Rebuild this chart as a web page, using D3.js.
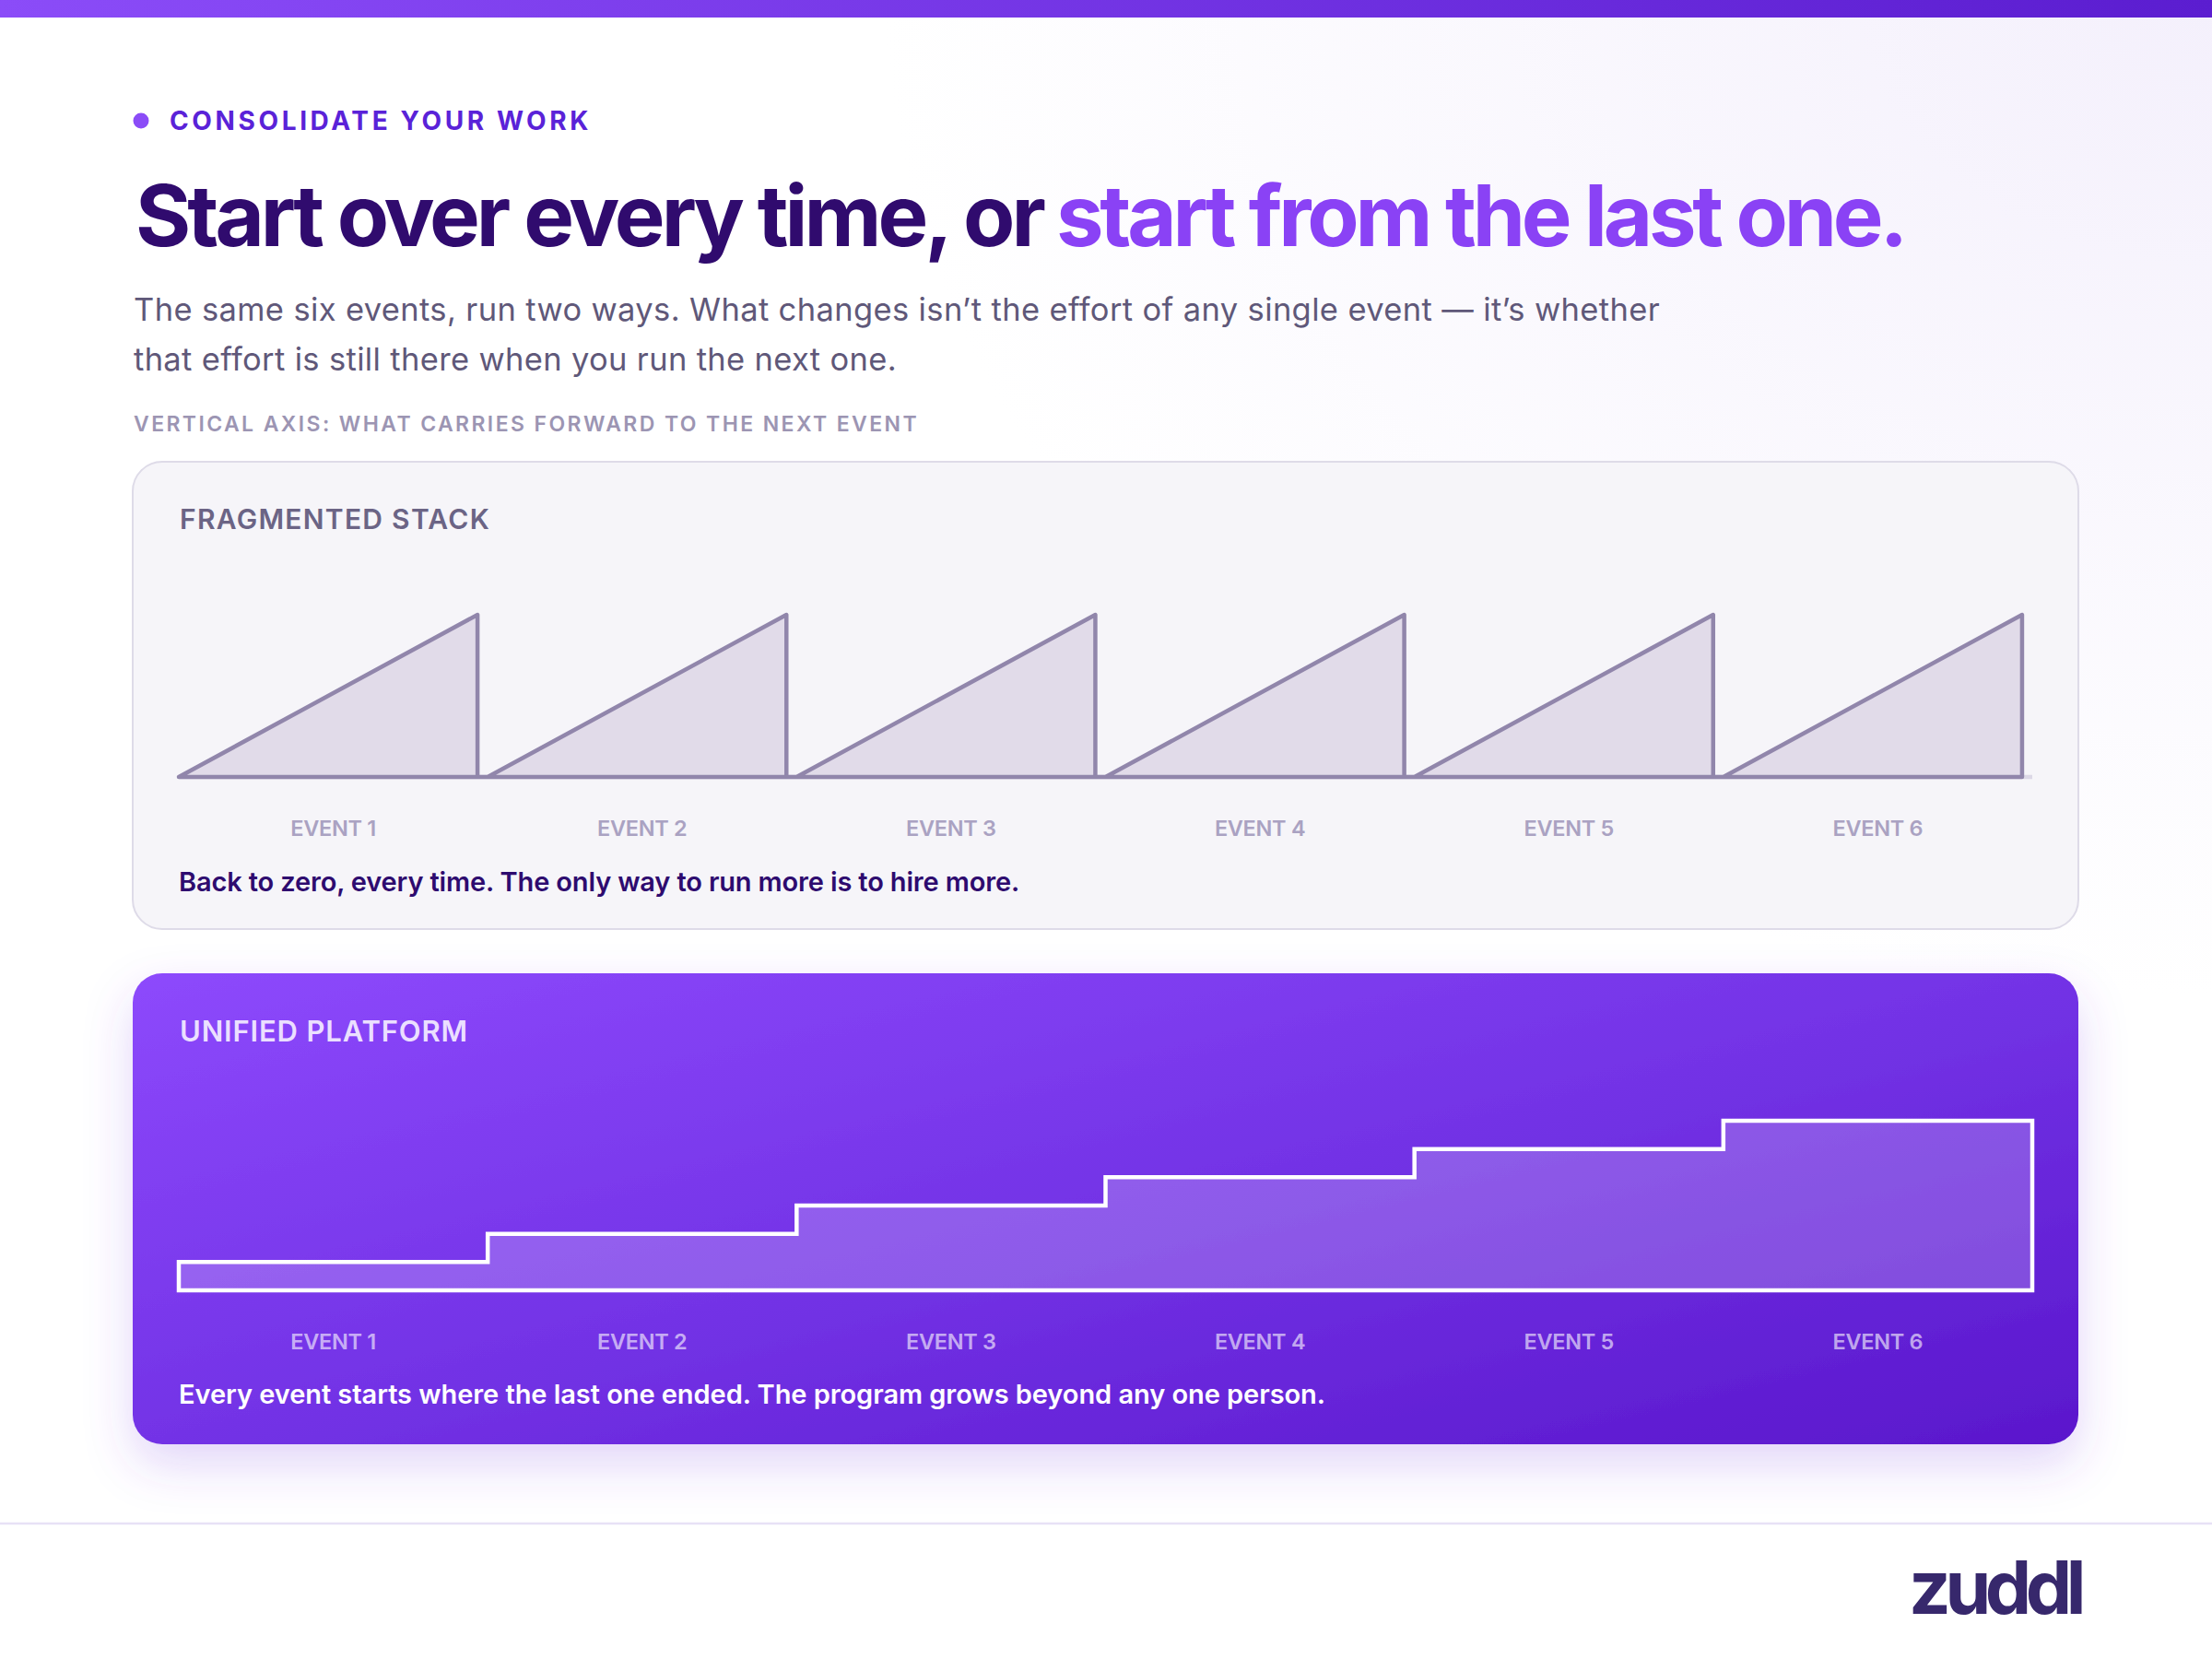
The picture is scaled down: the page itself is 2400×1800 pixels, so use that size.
<!DOCTYPE html>
<html><head><meta charset="utf-8">
<script src="https://cdn.jsdelivr.net/npm/d3@7"></script>
<style>
html,body{margin:0;padding:0;background:#ffffff;}
svg{display:block;font-family:Inter,"Noto Sans",sans-serif;}
</style>
</head><body>
<svg id="chart" width="2400" height="1800"></svg>
<script>
// ---------- data ----------
const events = ["EVENT 1","EVENT 2","EVENT 3","EVENT 4","EVENT 5","EVENT 6"];
const fragmentedPeak = [1,1,1,1,1,1];      // effort built inside each event, reset after
const unifiedLevel   = [1,2,3,4,5,6];      // what carries forward (cumulative)
const eyebrow   = "CONSOLIDATE YOUR WORK";
const titleDark = "Start over every time, or";
const titleHi   = "start from the last one.";
const subtitle  = ["The same six events, run two ways. What changes isn\u2019t the effort of any single event \u2014 it\u2019s whether",
                   "that effort is still there when you run the next one."];
const axisNote  = "VERTICAL AXIS: WHAT CARRIES FORWARD TO THE NEXT EVENT";
const panelTitles = ["FRAGMENTED STACK","UNIFIED PLATFORM"];
const captions  = ["Back to zero, every time. The only way to run more is to hire more.",
                   "Every event starts where the last one ended. The program grows beyond any one person."];
const brand = "zuddl";

// ---------- setup ----------
const svg = d3.select("#chart");
const defs = svg.append("defs");

function fit(sel, w){
  const n = sel.text().length;
  let L = sel.node().getComputedTextLength();
  let ls = (w - L) / n;
  sel.attr("letter-spacing", ls);
  L = sel.node().getComputedTextLength();
  ls += (w - L) / n;
  sel.attr("letter-spacing", ls);
  return sel;
}

// background tint
const bg = defs.append("radialGradient").attr("id","bgTint").attr("cx","100%").attr("cy","0%").attr("r","60%");
bg.append("stop").attr("offset","0%").attr("stop-color","#f4f0fc");
bg.append("stop").attr("offset","100%").attr("stop-color","#ffffff");
svg.append("rect").attr("width",2400).attr("height",1800).attr("fill","url(#bgTint)");

// top bar
const tb = defs.append("linearGradient").attr("id","topBar");
tb.append("stop").attr("offset","0%").attr("stop-color","#8b4cf8");
tb.append("stop").attr("offset","100%").attr("stop-color","#5b1dd0");
svg.append("rect").attr("width",2400).attr("height",19).attr("fill","url(#topBar)");

// eyebrow
svg.append("circle").attr("cx",153).attr("cy",131).attr("r",8.5).attr("fill","#8b4cf7");
fit(svg.append("text").attr("x",184).attr("y",141).attr("font-size",28).attr("font-weight",700)
  .attr("fill","#5a22d8").text(eyebrow), 458);

// title
fit(svg.append("text").attr("x",147).attr("y",267).attr("font-size",92).attr("font-weight",700)
  .attr("fill","#300b6e").text(titleDark), 984);
fit(svg.append("text").attr("x",1146).attr("y",267).attr("font-size",92).attr("font-weight",700)
  .attr("fill","#8a42f5").text(titleHi), 920);

// subtitle
const subW = [1656, 828];
subtitle.forEach((s,i)=>{
  fit(svg.append("text").attr("x",145).attr("y",348 + i*54).attr("font-size",34.5).attr("font-weight",400)
    .attr("fill","#5f5879").text(s), subW[i]);
});

fit(svg.append("text").attr("x",145).attr("y",468).attr("font-size",23).attr("font-weight",600)
  .attr("fill","#9c95b3").text(axisNote), 852);

// ---------- panels ----------
const panelX = 144, panelW = 2111;
// panel 1
svg.append("rect").attr("x",panelX).attr("y",501).attr("width",panelW).attr("height",507).attr("rx",32)
  .attr("fill","#f6f5f9").attr("stroke","#dedbe8").attr("stroke-width",2);

// panel 2 gradient + shadow
const pg = defs.append("linearGradient").attr("id","pGrad").attr("x1","0%").attr("y1","0%").attr("x2","100%").attr("y2","100%");
pg.append("stop").attr("offset","0%").attr("stop-color","#8d49fc");
pg.append("stop").attr("offset","50%").attr("stop-color","#7333e6");
pg.append("stop").attr("offset","100%").attr("stop-color","#5a17cc");
const sh = defs.append("filter").attr("id","shadow").attr("x","-10%").attr("y","-20%").attr("width","120%").attr("height","150%");
sh.append("feDropShadow").attr("dx",0).attr("dy",22).attr("stdDeviation",26)
  .attr("flood-color","#7b3fe4").attr("flood-opacity",0.22);
svg.append("rect").attr("x",panelX).attr("y",1056).attr("width",panelW).attr("height",511).attr("rx",32)
  .attr("fill","url(#pGrad)").attr("filter","url(#shadow)");

// panel titles
fit(svg.append("text").attr("x",195).attr("y",574).attr("font-size",30).attr("font-weight",600)
  .attr("fill","#6b6485").text(panelTitles[0]), 337);
fit(svg.append("text").attr("x",195).attr("y",1130).attr("font-size",31).attr("font-weight",600)
  .attr("fill","#ebdfff").text(panelTitles[1]), 313);

// ---------- scales ----------
const x = d3.scaleBand().domain(events).range([194, 2205])
  .paddingInner(0.033).paddingOuter(0.0165).align(0);
const step = x.step(), bw = x.bandwidth();

const yF = d3.scaleLinear().domain([0,1]).range([843, 667]);
const yU = d3.scaleLinear().domain([0,6]).range([1400, 1216]);

// ---------- fragmented chart ----------
svg.append("line").attr("x1",x.range()[0]).attr("x2",x.range()[1]).attr("y1",yF(0)).attr("y2",yF(0))
  .attr("stroke","#dcd8e6").attr("stroke-width",4.5);

const fragPts = [];
events.forEach((e,i)=>{
  fragPts.push([x(e), 0]);
  fragPts.push([x(e)+bw, fragmentedPeak[i]]);
  fragPts.push([x(e)+bw, 0]);
});
const fragArea = d3.area().x(d=>d[0]).y0(yF(0)).y1(d=>yF(d[1]));
svg.append("path").attr("d", fragArea(fragPts))
  .attr("fill","#e1dbe9").attr("stroke","#9186ab").attr("stroke-width",4.5).attr("stroke-linejoin","round");

svg.append("g").selectAll("text").data(events).join("text")
  .attr("x", d=>x(d)+step/2).attr("y",907).attr("text-anchor","middle")
  .attr("font-size",23.5).attr("font-weight",600).attr("fill","#aaa2c2").attr("letter-spacing",-0.3)
  .text(d=>d);

fit(svg.append("text").attr("x",194).attr("y",967).attr("font-size",29).attr("font-weight",600)
  .attr("fill","#2e0b6f").text(captions[0]), 912);

// ---------- unified chart ----------
const uniPts = events.map((e,i)=>[x(e), unifiedLevel[i]]);
uniPts.push([x(events[events.length-1]) + step, unifiedLevel[unifiedLevel.length-1]]);
const uniArea = d3.area().x(d=>d[0]).y0(yU(0)).y1(d=>yU(d[1])).curve(d3.curveStepAfter);
svg.append("path").attr("d", uniArea(uniPts))
  .attr("fill","#ffffff").attr("fill-opacity",0.2)
  .attr("stroke","#ffffff").attr("stroke-width",4.5).attr("stroke-linejoin","miter");

svg.append("g").selectAll("text").data(events).join("text")
  .attr("x", d=>x(d)+step/2).attr("y",1464).attr("text-anchor","middle")
  .attr("font-size",23.5).attr("font-weight",600).attr("fill","#ffffff").attr("fill-opacity",0.62)
  .attr("letter-spacing",-0.3).text(d=>d);

fit(svg.append("text").attr("x",194).attr("y",1523).attr("font-size",29).attr("font-weight",600)
  .attr("fill","#ffffff").text(captions[1]), 1244);

// ---------- footer ----------
svg.append("line").attr("x1",0).attr("x2",2400).attr("y1",1653).attr("y2",1653)
  .attr("stroke","#e7e1f6").attr("stroke-width",2.5);
fit(svg.append("text").attr("x",2071).attr("y",1751).attr("font-size",80).attr("font-weight",700)
  .attr("fill","#37286c").text(brand), 186);
</script>
</body></html>
